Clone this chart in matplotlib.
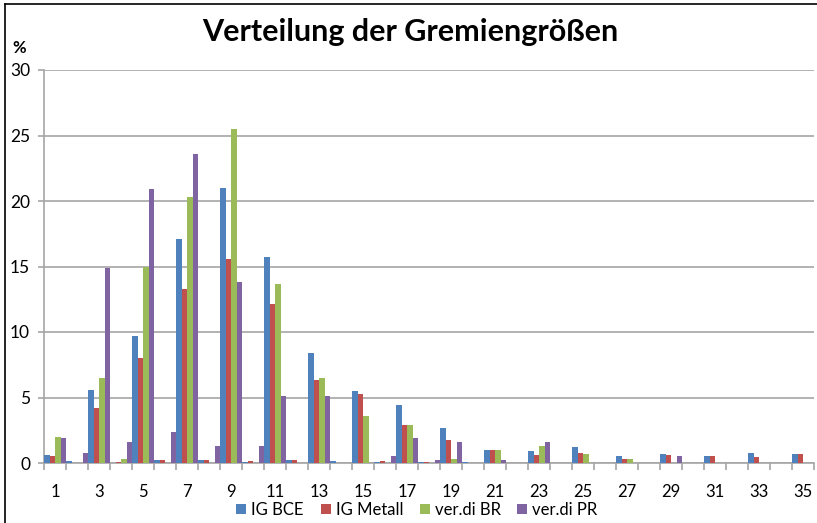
import numpy as np
import matplotlib
matplotlib.use("Agg")
import matplotlib.pyplot as plt
from matplotlib.lines import Line2D

plt.rcParams['font.family'] = ['Lato', 'DejaVu Sans']

# Gremiengröße 1..35
sizes = list(range(1, 36))
tick_labels = [str(s) if s % 2 == 1 else "" for s in sizes]

ig_bce = [0.6, 0.15, 5.6, 0, 9.7, 0.2, 17.1, 0.2, 21.0, 0.1, 15.7, 0.25, 8.4, 0.15, 5.5, 0.05,
          4.4, 0.1, 2.7, 0.05, 1.0, 0, 0.9, 0.03, 1.25, 0, 0.55, 0, 0.7, 0, 0.55, 0.03, 0.8, 0.03, 0.65]
ig_metall = [0.5, 0, 4.2, 0.1, 8.0, 0.2, 13.3, 0.25, 15.6, 0.15, 12.1, 0.2, 6.3, 0, 5.3, 0.15,
             2.9, 0.1, 1.75, 0, 1.0, 0, 0.6, 0, 0.75, 0, 0.3, 0, 0.6, 0, 0.55, 0, 0.45, 0, 0.65]
verdi_br = [1.95, 0, 6.5, 0.3, 15.0, 0, 20.3, 0, 25.5, 0, 13.7, 0, 6.5, 0, 3.6, 0,
            2.9, 0, 0.3, 0, 1.0, 0, 1.3, 0, 0.65, 0, 0.3, 0, 0, 0, 0, 0, 0, 0, 0]
verdi_pr = [1.9, 0.8, 14.9, 1.6, 20.9, 2.4, 23.6, 1.3, 13.8, 1.3, 5.1, 0, 5.1, 0, 0, 0.55,
            1.9, 0.25, 1.6, 0, 0.25, 0, 1.6, 0, 0, 0, 0, 0, 0.55, 0, 0, 0, 0, 0, 0]

series = [("IG BCE", ig_bce, "#4F81BD"),
          ("IG Metall", ig_metall, "#C0504D"),
          ("ver.di BR", verdi_br, "#9BBB59"),
          ("ver.di PR", verdi_pr, "#8064A2")]

fig = plt.figure(figsize=(8.17, 5.23), dpi=100)
ax = fig.add_axes([44 / 817, 1 - 463 / 523, 770 / 817, 393 / 523])

x = np.arange(len(sizes))
w = 0.25
for i, (name, vals, col) in enumerate(series):
    ax.bar(x + (i - 1.5) * w, vals, width=w, color=col, label=name, linewidth=0, zorder=3)

ax.set_xlim(-0.5, len(sizes) - 0.5)
ax.set_ylim(0, 30)
ax.set_yticks(range(0, 31, 5))
ax.yaxis.grid(True, color="#A6A6A6", linewidth=1.2, zorder=0)

ax.set_xticks(x)
ax.set_xticklabels(tick_labels)
ax.set_xticks(np.arange(-0.5, len(sizes)), minor=True)
ax.tick_params(axis="x", which="major", length=0, pad=15, labelsize=12)
ax.tick_params(axis="x", which="minor", length=5, color="#A6A6A6", width=1.2)
ax.tick_params(axis="y", length=4, color="#A6A6A6", width=1.2, pad=6, labelsize=12.5)

for side in ["top", "right"]:
    ax.spines[side].set_visible(False)
for side in ["left", "bottom"]:
    ax.spines[side].set_color("#A6A6A6")
    ax.spines[side].set_linewidth(1.2)

fig.text(410 / 817, 1 - 32 / 523, "Verteilung der Gremiengrößen", ha="center", va="center",
         fontsize=22, fontweight="bold")
fig.text(19 / 817, 1 - 48 / 523, "%", ha="center", va="center", fontsize=12, fontweight="bold")

fig.legend(loc="center", bbox_to_anchor=(417 / 817, 1 - 510 / 523), ncol=4, frameon=False,
           fontsize=12, handlelength=0.6, handleheight=0.6, handletextpad=0.3, columnspacing=1.0,
           borderpad=0.1)

# frame lines at top and left like the screenshot
fig.add_artist(Line2D([5 / 817, 1], [1 - 4 / 523, 1 - 4 / 523], color="black", linewidth=1.2))
fig.add_artist(Line2D([5 / 817, 5 / 817], [0, 1 - 4 / 523], color="black", linewidth=1.2))

fig.savefig("out.png", dpi=100)
